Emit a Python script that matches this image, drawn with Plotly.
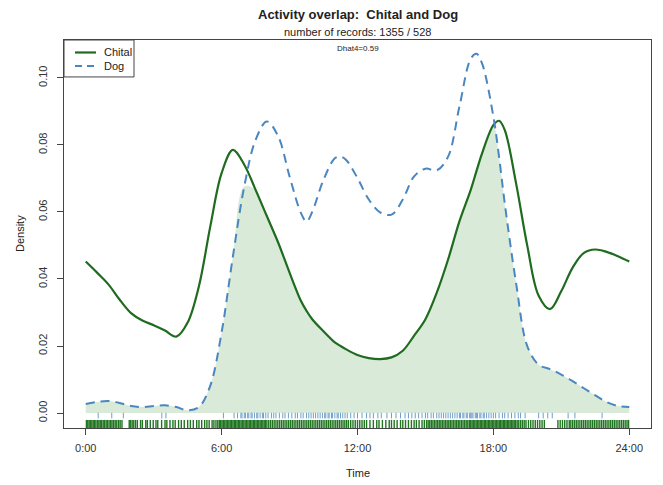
import numpy as np
import plotly.graph_objects as go

# ---- data ----
hours = [0, 0.5, 1.0, 1.5, 2.0, 2.5, 3.0, 3.5, 4.0, 4.5, 5.0, 5.5, 6.0, 6.5, 7.0, 7.5,
         8.0, 8.5, 9.0, 9.5, 9.75, 10.0, 10.5, 11.0, 11.25, 11.5, 12.0, 12.5, 13.0, 13.5,
         14.0, 14.5, 15.0, 15.5, 16.0, 16.5, 17.0, 17.25, 17.5, 18.0, 18.25, 18.5, 19.0,
         19.5, 20.0, 20.5, 21.0, 21.5, 22.0, 22.5, 23.0, 23.5, 24.0]

chital = [0.0452, 0.0419, 0.0384, 0.0338, 0.0298, 0.0276, 0.0262, 0.0246, 0.0228, 0.0270,
          0.0379, 0.0557, 0.0716, 0.0785, 0.0741, 0.0666, 0.0587, 0.0508, 0.0419, 0.0335,
          0.0305, 0.0280, 0.0244, 0.0211, 0.0200, 0.0190, 0.0173, 0.0164, 0.0161, 0.0166,
          0.0186, 0.0231, 0.0280, 0.0359, 0.0458, 0.0572, 0.0666, 0.0721, 0.0775, 0.0859,
          0.0872, 0.0845, 0.0686, 0.0498, 0.0350, 0.0310, 0.0364, 0.0434, 0.0478, 0.0488,
          0.0481, 0.0468, 0.0452]

dog = [0.0027, 0.0033, 0.0036, 0.0030, 0.0021, 0.0018, 0.0021, 0.0023, 0.0018, 0.0008,
       0.0018, 0.0082, 0.0241, 0.0468, 0.0676, 0.0815, 0.0870, 0.0825, 0.0706, 0.0597,
       0.0571, 0.0600, 0.0696, 0.0760, 0.0765, 0.0755, 0.0701, 0.0637, 0.0599, 0.0592,
       0.0637, 0.0706, 0.0729, 0.0724, 0.0765, 0.0914, 0.1057, 0.1072, 0.1043, 0.0884,
       0.0765, 0.0627, 0.0389, 0.0199, 0.0144, 0.0131, 0.0115, 0.0095, 0.0074, 0.0053,
       0.0033, 0.0021, 0.0018]

chital_rug = [0.03, 0.09, 0.15, 0.21, 0.27, 0.33, 0.39, 0.45, 0.52, 0.58, 0.64, 0.7, 0.77, 0.83,
              0.9, 0.96, 1.03, 1.1, 1.16, 1.23, 1.3, 1.37, 1.45, 1.52, 1.6,
              1.92, 1.98, 2.05, 2.12, 2.2, 2.28, 2.42, 2.5, 2.65, 2.72, 2.85, 2.98, 3.1, 3.18,
              3.35, 3.5, 3.58, 3.72, 3.85, 3.95, 4.1, 4.22, 4.35, 4.5, 4.62, 4.75, 4.9, 5.0,
              5.12, 5.25, 5.35, 5.45, 5.58, 5.66, 5.75, 5.83, 5.9, 5.96,
              6.02, 6.08, 6.14, 6.2, 6.26, 6.32, 6.38, 6.44, 6.5, 6.56, 6.62, 6.68, 6.74, 6.8,
              6.86, 6.92, 6.98, 7.04, 7.1, 7.16, 7.22, 7.28, 7.34, 7.4, 7.46, 7.52, 7.58, 7.64,
              7.7, 7.76, 7.82, 7.88, 7.94, 8.0, 8.08, 8.16, 8.24, 8.32, 8.4, 8.48, 8.56, 8.64,
              8.72, 8.8, 8.88, 8.96, 9.04, 9.12, 9.2, 9.28, 9.36, 9.44, 9.52, 9.6, 9.68, 9.76,
              9.84, 9.92, 10.0, 10.08, 10.16, 10.24, 10.32, 10.4, 10.48, 10.56, 10.64, 10.72,
              10.8, 10.88, 10.96, 11.04, 11.12, 11.2, 11.28, 11.36, 11.44, 11.52, 11.6, 11.7,
              11.8, 11.9, 12.0, 12.1, 12.2, 12.3, 12.4,
              12.55, 12.7, 12.85, 12.95, 13.1, 13.25, 13.4, 13.5, 13.62, 13.75, 13.9, 14.0,
              14.12, 14.25, 14.38, 14.5, 14.6, 14.72, 14.85, 14.95,
              15.05, 15.12, 15.19, 15.26, 15.33, 15.4, 15.47, 15.54, 15.61, 15.68, 15.75, 15.82,
              15.89, 15.96, 16.03, 16.1, 16.17, 16.24, 16.31, 16.38, 16.45, 16.52, 16.59, 16.66,
              16.73, 16.8, 16.87, 16.94, 17.0, 17.06, 17.12, 17.18, 17.24, 17.3, 17.36, 17.42,
              17.48, 17.54, 17.6, 17.66, 17.72, 17.78, 17.84, 17.9, 17.96, 18.02, 18.08, 18.14,
              18.2, 18.26, 18.32, 18.38, 18.44, 18.5, 18.56, 18.62, 18.68, 18.74, 18.8, 18.86,
              18.92, 18.98, 19.05, 19.12, 19.2, 19.28, 19.36, 19.44,
              19.55, 19.65, 19.75, 19.85, 19.95, 20.05, 20.15, 20.25,
              20.85, 20.95, 21.05, 21.15, 21.25, 21.35, 21.42, 21.5, 21.58, 21.66, 21.74, 21.82,
              21.9, 21.98, 22.06, 22.14, 22.22, 22.3, 22.38, 22.46, 22.54, 22.62, 22.7, 22.78,
              22.86, 22.94, 23.02, 23.1, 23.18, 23.26, 23.34, 23.42, 23.5, 23.58, 23.66, 23.74,
              23.82, 23.9, 23.97]

dog_rug = [0.55, 1.15, 1.66, 3.36, 3.54, 6.08,
           6.55, 6.7, 6.85, 6.9, 7.0, 7.05, 7.15, 7.2, 7.3, 7.35, 7.45, 7.55, 7.6, 7.7, 7.8,
           7.85, 7.95, 8.05, 8.2, 8.3, 8.4, 8.55, 8.7, 8.8, 8.95, 9.1, 9.25, 9.35, 9.5, 9.6,
           9.75, 9.85, 9.95, 10.05, 10.15, 10.25, 10.35, 10.45, 10.55, 10.6, 10.7, 10.75,
           10.85, 10.9, 11.0, 11.1, 11.15, 11.25, 11.35, 11.45, 11.55, 11.7, 11.85, 12.0,
           12.2, 12.4, 12.55, 12.7, 12.9, 13.05, 13.3, 13.5, 13.7, 13.9, 14.1, 14.25, 14.4,
           14.55, 14.7, 14.85, 15.0, 15.1, 15.25, 15.35, 15.5, 15.6, 15.7, 15.8, 15.9, 16.0,
           16.1, 16.2, 16.3, 16.4, 16.5, 16.55, 16.65, 16.7, 16.8, 16.85, 16.95, 17.0, 17.05,
           17.1, 17.2, 17.25, 17.3, 17.4, 17.45, 17.55, 17.6, 17.7, 17.8, 17.9, 18.0, 18.1,
           18.25, 18.4, 18.5, 18.65, 18.8, 18.95, 19.1, 19.2,
           19.4, 20.0, 20.2, 20.4, 20.6, 21.3, 21.6, 22.8]

x_ticks = [0, 6, 12, 18, 24]
x_labels = ["0:00", "6:00", "12:00", "18:00", "24:00"]
y_ticks = [0, 0.02, 0.04, 0.06, 0.08, 0.10]
y_labels = ["0.00", "0.02", "0.04", "0.06", "0.08", "0.10"]

GREEN = "#1f6b1f"
BLUE = "#4a86bf"
FILL = "#d9ead9"
FONT = "Liberation Sans, Arial, sans-serif"

overlap = np.minimum(np.array(chital), np.array(dog))

fig = go.Figure()
fig.add_trace(go.Scatter(x=hours, y=overlap, mode="lines", fill="tozeroy",
                         fillcolor=FILL, line=dict(width=0, shape="spline", color=FILL),
                         hoverinfo="skip", showlegend=False))
fig.add_trace(go.Scatter(x=dog_rug, y=[-0.00075] * len(dog_rug), mode="markers",
                         marker=dict(symbol="line-ns", size=4,
                                     line=dict(width=1, color="rgba(74,134,191,0.8)")),
                         showlegend=False, hoverinfo="skip"))
fig.add_trace(go.Scatter(x=chital_rug, y=[-0.0033] * len(chital_rug), mode="markers",
                         marker=dict(symbol="line-ns", size=6,
                                     line=dict(width=1.4, color="rgba(20,110,20,0.95)")),
                         showlegend=False, hoverinfo="skip"))
fig.add_trace(go.Scatter(x=hours, y=chital, mode="lines", name="Chital",
                         line=dict(color=GREEN, width=2.2, shape="spline"), showlegend=False))
fig.add_trace(go.Scatter(x=hours, y=dog, mode="lines", name="Dog",
                         line=dict(color=BLUE, width=2, shape="spline", dash="9px,6px"),
                         showlegend=False))

fig.update_xaxes(range=[-0.96, 24.96], tickvals=x_ticks, ticktext=x_labels,
                 showgrid=False, zeroline=False, ticks="outside", ticklen=6,
                 tickcolor="#444", showline=True, mirror=True, linecolor="#444",
                 linewidth=1, tickfont=dict(size=11, color="#333", family=FONT),
                 ticklabelstandoff=4)
fig.update_yaxes(range=[-0.00446, 0.1113], tickvals=y_ticks, ticktext=y_labels,
                 showgrid=False, zeroline=False, ticks="outside", ticklen=6,
                 tickcolor="#444", showline=True, mirror=True, linecolor="#444",
                 linewidth=1, tickangle=-90, tickfont=dict(size=11, color="#333", family=FONT),
                 ticklabelstandoff=6)

ph = 388.5
pw = 587.0
ann = [
    dict(text="<b>Activity overlap:  Chital and Dog</b>", x=0.5, y=1 + 26 / ph, size=13),
    dict(text="number of records: 1355 / 528", x=0.5, y=1 + 8 / ph, size=11),
    dict(text="Dhat4=0.59", x=0.5, y=1 - 9 / ph, size=8),
    dict(text="Time", x=0.5, y=-(474 - 428.5) / ph, size=11),
]
for a in ann:
    fig.add_annotation(text=a["text"], x=a["x"], y=a["y"], xref="paper", yref="paper",
                       showarrow=False, xanchor="center", yanchor="middle",
                       font=dict(size=a["size"], color="#222", family=FONT))
fig.add_annotation(text="Density", x=(20 - 64) / pw, y=0.5, xref="paper", yref="paper",
                   showarrow=False, textangle=-90, xanchor="center", yanchor="middle",
                   font=dict(size=11, color="#222", family=FONT))

# legend box (manual)
lx1 = (134 - 64) / pw
ly0 = 1 - (77 - 40) / ph
fig.add_shape(type="rect", xref="paper", yref="paper", x0=0, x1=lx1, y0=ly0, y1=1,
              line=dict(color="#444", width=1), fillcolor="white")
yc = 1 - (52.5 - 40) / ph
yd = 1 - (66 - 40) / ph
fig.add_shape(type="line", xref="paper", yref="paper", x0=(75 - 64) / pw, x1=(96 - 64) / pw,
              y0=yc, y1=yc, line=dict(color=GREEN, width=2.2))
fig.add_shape(type="line", xref="paper", yref="paper", x0=(75 - 64) / pw, x1=(96 - 64) / pw,
              y0=yd, y1=yd, line=dict(color=BLUE, width=2, dash="7px,5px"))
for txt, yy in [("Chital", yc), ("Dog", yd)]:
    fig.add_annotation(text=txt, x=(102 - 64) / pw, y=yy, xref="paper", yref="paper",
                       showarrow=False, xanchor="left", yanchor="middle",
                       font=dict(size=11, color="#222", family=FONT))

fig.update_layout(width=663, height=485, margin=dict(l=64, r=12, t=40, b=56.5),
                  paper_bgcolor="white", plot_bgcolor="white", showlegend=False)

fig.write_html("out.html",
               config={"displayModeBar": False, "staticPlot": True},
               post_script="document.body.style.margin='0';"
                           "document.body.style.overflow='hidden';")
